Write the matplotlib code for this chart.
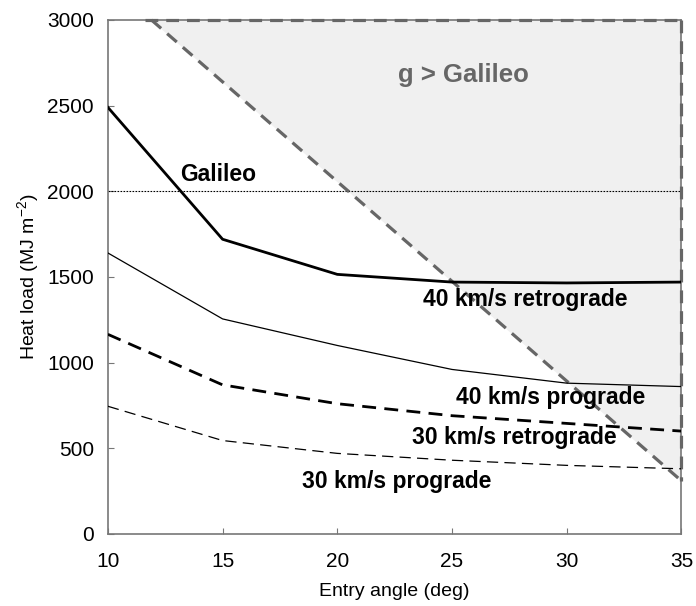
import matplotlib
matplotlib.use('Agg')
import matplotlib.pyplot as plt

plt.rcParams['font.family'] = ['Liberation Sans', 'DejaVu Sans']

# Данные (читаются с картинки)
angles = [10, 15, 20, 25, 30, 35]
retro_40 = [2490, 1720, 1515, 1470, 1465, 1470]
pro_40 = [1640, 1255, 1100, 960, 880, 860]
retro_30 = [1165, 870, 760, 690, 645, 600]
pro_30 = [745, 545, 470, 430, 400, 380]
galileo_load = 2000

# Область g > Galileo
region_x = [11.9, 35, 35]
region_y = [3000, 3000, 310]
top_edge_x = [11.6, 35]

fig, ax = plt.subplots(figsize=(6.96, 6.06), dpi=100)
fig.subplots_adjust(left=0.155, right=0.979, top=0.967, bottom=0.119)

gray = '#666666'
ax.fill(region_x, region_y, color='#f0f0f0', zorder=0, lw=0)
ax.plot([region_x[0], region_x[2]], [region_y[0], region_y[2]], color=gray,
        lw=2.3, ls=(0, (4, 2.5)), zorder=3, clip_on=False)
ax.plot(top_edge_x, [3000, 3000], color=gray, lw=2.3, ls=(0, (4, 2.5)), zorder=3, clip_on=False)
ax.plot([35, 35], [3000, region_y[2]], color=gray, lw=2.3, ls=(0, (4, 2.5)), zorder=3, clip_on=False)

ax.axhline(galileo_load, color='black', lw=0.8, ls=(0, (1.5, 1.2)), zorder=2)

ax.plot(angles, retro_40, color='black', lw=2.0, zorder=4)
ax.plot(angles, pro_40, color='black', lw=0.9, zorder=4)
ax.plot(angles, retro_30, color='black', lw=2.0, ls=(0, (5, 3)), zorder=4)
ax.plot(angles, pro_30, color='black', lw=0.9, ls=(0, (9, 5)), zorder=4)

bold = dict(fontweight='bold', fontsize=16.5, ha='center', va='center')
ax.text(14.8, 2100, 'Galileo', **bold)
ax.text(28.2, 1370, '40 km/s retrograde', **bold)
ax.text(29.3, 795, '40 km/s prograde', **bold)
ax.text(27.7, 565, '30 km/s retrograde', **bold)
ax.text(22.6, 305, '30 km/s prograde', **bold)
ax.text(25.5, 2680, 'g > Galileo', fontweight='bold', fontsize=18.5, color=gray,
        ha='center', va='center')

ax.set_xlim(10, 35)
ax.set_ylim(0, 3000)
ax.set_xticks([10, 15, 20, 25, 30, 35])
ax.set_yticks([0, 500, 1000, 1500, 2000, 2500, 3000])
ax.tick_params(direction='in', length=4, color='#777777', labelsize=15)
ax.tick_params(axis='x', pad=13)
ax.tick_params(axis='y', pad=10)
for s in ax.spines.values():
    s.set_color('#777777')
    s.set_linewidth(1.2)

ax.set_xlabel('Entry angle (deg)', fontsize=14, labelpad=9)
ax.set_ylabel('Heat load (MJ m$^{\\mathregular{-2}}$)', fontsize=14, labelpad=4)

fig.savefig('out.png', dpi=100)
